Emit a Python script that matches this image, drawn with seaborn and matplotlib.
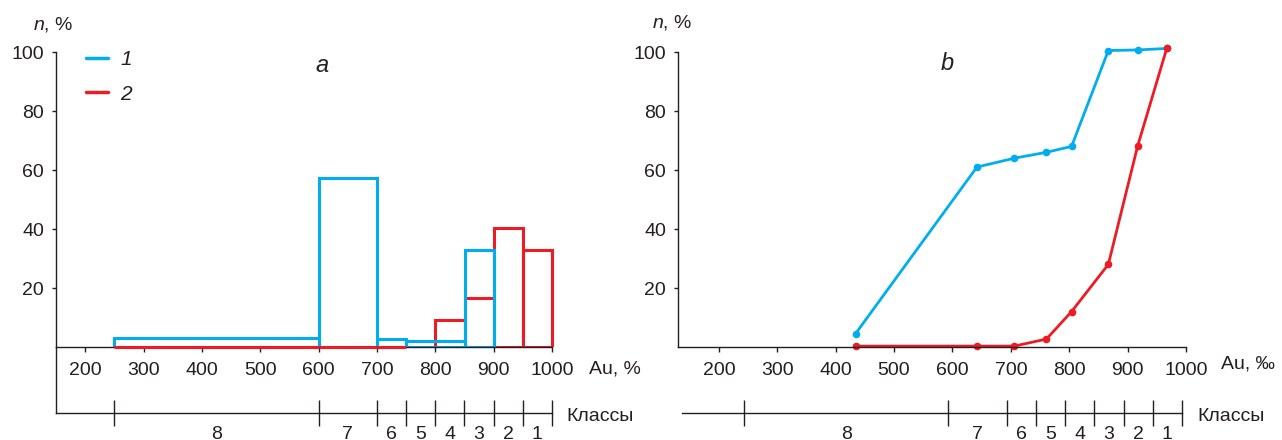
import matplotlib
matplotlib.use("Agg")
import matplotlib.pyplot as plt
from matplotlib.lines import Line2D
import pandas as pd
import seaborn as sns

# fineness classes (Au, ‰) shared by both panels
class_edges = [250, 600, 700, 750, 800, 850, 900, 950, 1000]
class_names = ["8", "7", "6", "5", "4", "3", "2", "1"]

# panel a: distribution by class, series 1 (blue)
blue_edges = [250, 600, 700, 750, 850, 900]
blue_pct = [3.0, 57.2, 2.8, 2.0, 32.8]
# series 2 (red): empty low classes + filled high classes
red_zero_edges = [250, 600, 700, 750]
red_zero_pct = [0, 0, 0]
red_edges = [800, 850, 900, 950, 1000]
red_pct = [9.0, 16.5, 40.3, 32.8]

# panel b: cumulative curves
au_points = [434, 642, 706, 761, 804, 867, 917, 967]
blue_cum = [4.5, 61, 64, 66, 68, 100.5, 100.7, 101.2]
red_cum = [0.3, 0.3, 0.3, 2.7, 12, 28, 68, 101.2]

x_ticks = [200, 300, 400, 500, 600, 700, 800, 900, 1000]
y_ticks = [20, 40, 60, 80, 100]

BLUE = "#00AEEF"
RED = "#ED1C24"
INK = "#231F20"
W, H = 1282, 440

sns.set_theme(style="ticks")
plt.rcParams["font.family"] = ["Liberation Sans", "DejaVu Sans"]
plt.rcParams.update({
    "axes.edgecolor": INK, "xtick.color": INK, "ytick.color": INK,
    "text.color": INK, "axes.linewidth": 1.0,
    "mathtext.fontset": "custom", "mathtext.it": "Liberation Sans:italic",
    "mathtext.rm": "Liberation Sans",
})

fig = plt.figure(figsize=(W / 100, H / 100), dpi=100)


def px_axes(x0, x1, y_top, y_bot):
    return fig.add_axes([x0 / W, 1 - y_bot / H, (x1 - x0) / W, (y_bot - y_top) / H])


def ftext(x, y, s, size=14, **kw):
    fig.text(x / W, 1 - y / H, s, fontsize=size, **kw)


def hist(ax, edges, vals, color, z, clip):
    mids = [(a + b) / 2 for a, b in zip(edges[:-1], edges[1:])]
    sns.histplot(x=mids, weights=vals, bins=edges, element="bars", fill=False,
                 color=color, linewidth=2.2, ax=ax, zorder=z, clip_on=clip)


def main_style(ax, xlim):
    ax.set_xlim(xlim)
    ax.set_ylim(0, 100)
    ax.set_xticks(x_ticks)
    ax.set_yticks(y_ticks)
    ax.tick_params(axis="x", direction="out", length=3.5, width=1, labelsize=14, pad=7)
    ax.tick_params(axis="y", direction="out", length=3, width=1, labelsize=14, pad=5.5)
    ax.spines[["top", "right"]].set_visible(False)
    ax.spines["bottom"].set_bounds(xlim[0], 1000)
    ax.spines["bottom"].set_zorder(4.5)
    ax.set_xlabel("")
    ax.set_ylabel("")
    ax.patch.set_visible(False)


def class_axis(ax, xlim, left_spine):
    mids = [(a + b) / 2 for a, b in zip(class_edges[:-1], class_edges[1:])]
    ax.set_xlim(xlim)
    ax.set_ylim(0, 1)
    ax.patch.set_visible(False)
    ax.spines[["top", "right"]].set_visible(False)
    ax.spines["left"].set_visible(left_spine)
    ax.set_yticks([])
    ax.set_xticks(class_edges)
    ax.set_xticklabels([])
    ax.set_xticks(mids, minor=True)
    ax.set_xticklabels(class_names, minor=True)
    ax.tick_params(axis="x", which="major", direction="inout", length=19, width=1)
    ax.tick_params(axis="x", which="minor", length=0, pad=9, labelsize=14)


# ---- panel a
# axes box runs a bit past 1000 so the last bar edge is not clipped
ax_a = px_axes(56, 555, 52, 347)
hist(ax_a, red_edges, red_pct, RED, 2, True)
hist(ax_a, blue_edges, blue_pct, BLUE, 3, True)
hist(ax_a, red_zero_edges, red_zero_pct, RED, 5, False)
main_style(ax_a, (150, 1005))

ax_a.legend(handles=[Line2D([], [], color=BLUE, lw=2.5), Line2D([], [], color=RED, lw=2.5)],
            labels=["1", "2"], loc="upper left",
            bbox_to_anchor=(86 / W, 1 - 50 / H), bbox_transform=fig.transFigure,
            frameon=False, handlelength=1.05, handletextpad=0.6, labelspacing=0.75,
            borderpad=0, borderaxespad=0, prop={"style": "italic", "size": 15})

cls_a = px_axes(56, 552, 347, 413)
class_axis(cls_a, (150, 1000), True)

# ---- panel b
ax_b = px_axes(678, 1186, 52, 347)
df_b = pd.DataFrame({
    "au": au_points + au_points,
    "n": blue_cum + red_cum,
    "series": ["1"] * len(au_points) + ["2"] * len(au_points),
})
sns.lineplot(data=df_b, x="au", y="n", hue="series", palette=[BLUE, RED],
             marker="o", markersize=5.5, markeredgewidth=0, linewidth=2,
             legend=False, ax=ax_b, clip_on=False)
main_style(ax_b, (130, 1000))

cls_b = px_axes(682, 1182, 347, 413)
class_axis(cls_b, (144, 1000), False)

# ---- texts
ftext(33, 25, r"$n$, %", ha="left", va="center")
ftext(652, 23, r"$n$, %", ha="left", va="center")
ftext(322, 66, "a", size=17, ha="center", va="center", style="italic")
ftext(947, 63, "b", size=17, ha="center", va="center", style="italic")
ftext(589, 369, "Au, %", ha="left", va="center")
ftext(1221, 364, "Au, ‰", ha="left", va="center")
ftext(566, 416, "Классы", ha="left", va="center")
ftext(1197, 416, "Классы", ha="left", va="center")

fig.savefig("out.png", dpi=100)
